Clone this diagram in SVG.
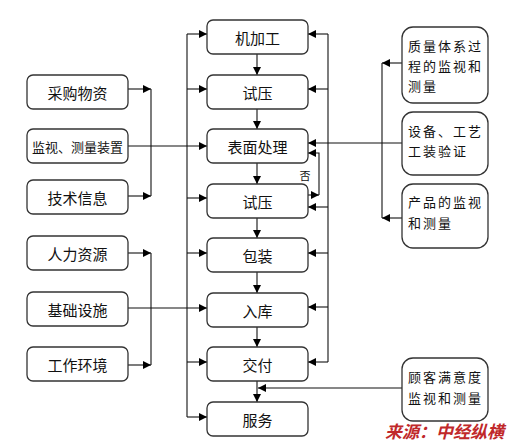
<svg xmlns="http://www.w3.org/2000/svg" width="509" height="443" viewBox="0 0 509 443">
<style>
.box{fill:#fff;stroke:#333;stroke-width:1.3}
.t{font-family:"Noto Sans CJK SC","Noto Sans",sans-serif;font-size:15px;fill:#111;text-anchor:middle;dominant-baseline:central}
.rt{font-family:"Noto Sans CJK SC","Noto Sans",sans-serif;font-size:13px;fill:#111;letter-spacing:2px}
.ln{fill:none;stroke:#111;stroke-width:1.1}
.src{font-family:"Noto Sans CJK SC","Liberation Sans",sans-serif;font-size:17px;font-weight:bold;font-style:italic;fill:#c0282a}
</style>
<defs>
<marker id="ah" viewBox="0 0 10 10" refX="10" refY="5" markerWidth="9" markerHeight="8" markerUnits="userSpaceOnUse" orient="auto">
<path d="M0,0 L10,5 L0,10 z" fill="#000"/>
</marker>
</defs>
<rect width="509" height="443" fill="#fff"/>

<g id="connectors">
<path class="ln" d="M257,54 V75" marker-end="url(#ah)"/>
<path class="ln" d="M257,109 V129" marker-end="url(#ah)"/>
<path class="ln" d="M257,163 V184" marker-end="url(#ah)"/>
<path class="ln" d="M257,218 V238" marker-end="url(#ah)"/>
<path class="ln" d="M257,272 V293" marker-end="url(#ah)"/>
<path class="ln" d="M257,327 V347" marker-end="url(#ah)"/>
<path class="ln" d="M257,381 V402" marker-end="url(#ah)"/>
<path class="ln" d="M187,34 V417"/>
<path class="ln" d="M187,34 H207" marker-end="url(#ah)"/>
<path class="ln" d="M187,89 H207" marker-end="url(#ah)"/>
<path class="ln" d="M187,198 H207" marker-end="url(#ah)"/>
<path class="ln" d="M187,253 H207" marker-end="url(#ah)"/>
<path class="ln" d="M187,362 H207" marker-end="url(#ah)"/>
<path class="ln" d="M187,417 H207" marker-end="url(#ah)"/>
<path class="ln" d="M328,34 V362"/>
<path class="ln" d="M328,34 H308" marker-end="url(#ah)"/>
<path class="ln" d="M328,89 H308" marker-end="url(#ah)"/>
<path class="ln" d="M328,207 H308" marker-end="url(#ah)"/>
<path class="ln" d="M328,253 H308" marker-end="url(#ah)"/>
<path class="ln" d="M328,307 H308" marker-end="url(#ah)"/>
<path class="ln" d="M328,362 H308" marker-end="url(#ah)"/>
<path class="ln" d="M308,195 H319" marker-end="url(#ah)"/>
<path class="ln" d="M319,195 V153 H308" marker-end="url(#ah)"/>
<text x="305" y="175" class="t" style="font-size:11px">否</text>
<path class="ln" d="M128,89 H151" marker-end="url(#ah)"/>
<path class="ln" d="M128,196 H151" marker-end="url(#ah)"/>
<path class="ln" d="M151,89 V196"/>
<path class="ln" d="M128,146 H207" marker-end="url(#ah)"/>
<path class="ln" d="M128,253 H151" marker-end="url(#ah)"/>
<path class="ln" d="M128,365 H151" marker-end="url(#ah)"/>
<path class="ln" d="M151,253 V365"/>
<path class="ln" d="M128,308 H207" marker-end="url(#ah)"/>
<path class="ln" d="M402,63 H382" marker-end="url(#ah)"/>
<path class="ln" d="M402,218 H382" marker-end="url(#ah)"/>
<path class="ln" d="M382,63 V218"/>
<path class="ln" d="M402,143 H308" marker-end="url(#ah)"/>
<path class="ln" d="M402,388 H258" marker-end="url(#ah)"/>
</g>

<g id="n-jijiagong"><rect class="box" x="207" y="20" width="101" height="34" rx="6"/><text class="t" x="257.5" y="37">机加工</text></g>
<g id="n-shiya1"><rect class="box" x="207" y="75" width="101" height="34" rx="6"/><text class="t" x="257.5" y="92">试压</text></g>
<g id="n-biaomian"><rect class="box" x="207" y="129" width="101" height="34" rx="6"/><text class="t" x="257.5" y="146">表面处理</text></g>
<g id="n-shiya2"><rect class="box" x="207" y="184" width="101" height="34" rx="6"/><text class="t" x="257.5" y="201">试压</text></g>
<g id="n-baozhuang"><rect class="box" x="207" y="238" width="101" height="34" rx="6"/><text class="t" x="257.5" y="255">包装</text></g>
<g id="n-ruku"><rect class="box" x="207" y="293" width="101" height="34" rx="6"/><text class="t" x="257.5" y="310">入库</text></g>
<g id="n-jiaofu"><rect class="box" x="207" y="347" width="101" height="34" rx="6"/><text class="t" x="257.5" y="364">交付</text></g>
<g id="n-fuwu"><rect class="box" x="207" y="402" width="101" height="34" rx="6"/><text class="t" x="257.5" y="419">服务</text></g>

<g id="n-caigou"><rect class="box" x="27" y="75" width="101" height="34" rx="6"/><text class="t" x="77.5" y="92">采购物资</text></g>
<g id="n-jianshi"><rect class="box" x="27" y="129" width="101" height="34" rx="6"/><text class="t" x="77.5" y="146" style="font-size:13px">监视、测量装置</text></g>
<g id="n-jishu"><rect class="box" x="27" y="180" width="101" height="34" rx="6"/><text class="t" x="77.5" y="197">技术信息</text></g>
<g id="n-renli"><rect class="box" x="27" y="236" width="101" height="34" rx="6"/><text class="t" x="77.5" y="253">人力资源</text></g>
<g id="n-jichu"><rect class="box" x="27" y="292" width="101" height="34" rx="6"/><text class="t" x="77.5" y="309">基础设施</text></g>
<g id="n-gongzuo"><rect class="box" x="27" y="347" width="101" height="34" rx="6"/><text class="t" x="77.5" y="364">工作环境</text></g>

<g id="n-zhiliang"><rect class="box" x="402" y="27" width="86" height="76" rx="11"/>
<text class="rt" x="408" y="51">质量体系过</text><text class="rt" x="408" y="71">程的监视和</text><text class="rt" x="408" y="91">测量</text></g>
<g id="n-shebei"><rect class="box" x="402" y="112" width="86" height="63" rx="11"/>
<text class="rt" x="408" y="136">设备、工艺</text><text class="rt" x="408" y="156">工装验证</text></g>
<g id="n-chanpin"><rect class="box" x="402" y="184" width="86" height="64" rx="11"/>
<text class="rt" x="408" y="207">产品的监视</text><text class="rt" x="408" y="228">和测量</text></g>
<g id="n-guke"><rect class="box" x="402" y="358" width="86" height="63" rx="11"/>
<text class="rt" x="408" y="382">顾客满意度</text><text class="rt" x="408" y="403">监视和测量</text></g>

<text class="src" x="385" y="438">来源：中经纵横</text>
</svg>
